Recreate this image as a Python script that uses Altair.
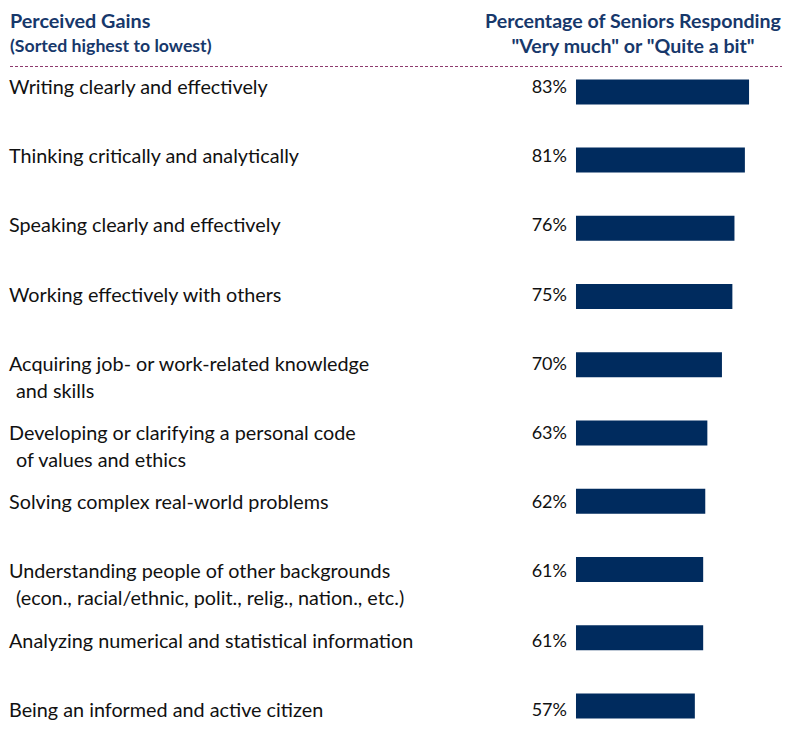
import altair as alt
import pandas as pd

line1 = [
    "Writing clearly and effectively",
    "Thinking critically and analytically",
    "Speaking clearly and effectively",
    "Working effectively with others",
    "Acquiring job- or work-related knowledge",
    "Developing or clarifying a personal code",
    "Solving complex real-world problems",
    "Understanding people of other backgrounds",
    "Analyzing numerical and statistical information",
    "Being an informed and active citizen",
]
line2 = [
    "", "", "", "",
    "and skills",
    "of values and ethics",
    "",
    "(econ., racial/ethnic, polit., relig., nation., etc.)",
    "",
    "",
]
values = [83, 81, 76, 75, 70, 63, 62, 61, 61, 57]

df = pd.DataFrame({
    "rank": list(range(len(values))),
    "line1": line1,
    "line2": line2,
    "pct": values,
})
df["pct_label"] = df["pct"].astype(str) + "%"

W, H = 774, 717
FONT = "Lato"
NAVY = "#002B5E"
HEAD = "#17386B"

y = alt.Y("rank:Q", axis=None, scale=alt.Scale(domain=[-1.156, 9.205], reverse=True, nice=False, zero=False))
xs = alt.Scale(domain=[-272.4, 98.8], nice=False, zero=False)

base = alt.Chart(df)

bars = base.mark_bar(size=25, orient="horizontal", color=NAVY, clip=True).encode(
    x=alt.X("pct:Q", axis=None, scale=xs),
    x2=alt.datum(0),
    y=y,
)

pct_text = base.mark_text(align="right", baseline="middle", dx=-9, fontSize=18, font=FONT, color="#111111").encode(
    x=alt.X("zero:Q", scale=xs, axis=None),
    y=y,
    text="pct_label:N",
).transform_calculate(zero="0")

lab1 = base.mark_text(align="left", baseline="middle", fontSize=19.8, font=FONT, color="#111111").encode(
    x=alt.value(1),
    y=y,
    text="line1:N",
)
lab2 = base.mark_text(align="left", baseline="middle", dy=27, dx=7, fontSize=19.8, font=FONT, color="#111111").encode(
    x=alt.value(1),
    y=y,
    text="line2:N",
)

hdr = pd.DataFrame({
    "txt": ["Perceived Gains", "(Sorted highest to lowest)",
            "Percentage of Seniors Responding", "\"Very much\" or \"Quite a bit\""],
    "px": [2, 2, 625, 625],
    "py": [14, 39, 14, 39],
    "fs": [19.8, 17.7, 19.6, 19.6],
})

hdr_left = alt.Chart(hdr.iloc[:2]).mark_text(align="left", baseline="middle", font=FONT, fontWeight="bold", color=HEAD).encode(
    x=alt.X("px:Q", scale=None, axis=None), y=alt.Y("py:Q", scale=None, axis=None), text="txt:N",
    size=alt.Size("fs:Q", scale=None, legend=None),
)
hdr_right = alt.Chart(hdr.iloc[2:]).mark_text(align="center", baseline="middle", font=FONT, fontWeight="bold", color=HEAD).encode(
    x=alt.X("px:Q", scale=None, axis=None), y=alt.Y("py:Q", scale=None, axis=None), text="txt:N",
    size=alt.Size("fs:Q", scale=None, legend=None),
)

rule = alt.Chart(pd.DataFrame({"a": [0]})).mark_rule(color="#8E3A6E", strokeDash=[3, 2], strokeWidth=1).encode(
    x=alt.value(-8), x2=alt.value(W), y=alt.value(58.5),
)

chart = alt.layer(bars, pct_text, lab1, lab2, hdr_left, hdr_right, rule).resolve_scale(
    x="independent", y="independent"
).properties(
    width=W, height=H, padding=0, autosize=alt.AutoSizeParams(type="none")
).configure(background="white", view=alt.ViewConfig(stroke=None))

chart.save("out.html", embed_options={"renderer": "svg", "actions": False})
